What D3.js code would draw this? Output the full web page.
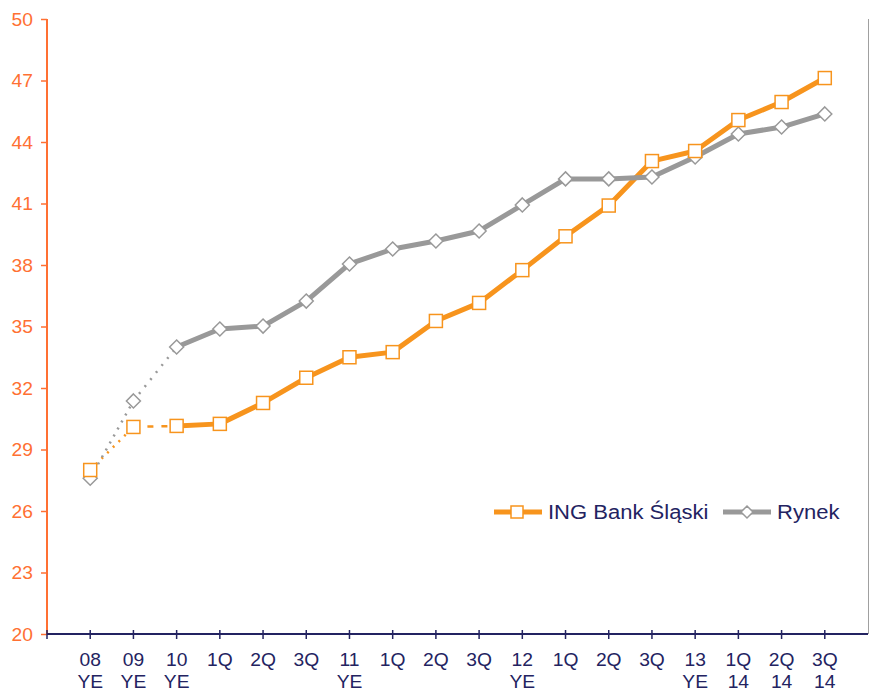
<!DOCTYPE html>
<html>
<head>
<meta charset="utf-8">
<script src="https://cdn.jsdelivr.net/npm/d3@7"></script>
<style>
  body { margin: 0; background: #fff; }
  svg text { font-family: "Liberation Sans", Arial, sans-serif; }
</style>
</head>
<body>
<div id="chart"></div>
<script>
// categories: two-line labels
const categories = ["08|YE", "09|YE", "10|YE", "1Q|", "2Q|", "3Q|", "11|YE", "1Q|", "2Q|", "3Q|",
    "12|YE", "1Q|", "2Q|", "3Q|", "13|YE", "1Q|14", "2Q|14", "3Q|14"];
const ingValues   = [28.0, 30.1, 30.15, 30.25, 31.27, 32.5, 33.5, 33.75, 35.27, 36.15,
    37.75, 39.4, 40.9, 43.07, 43.56, 45.07, 45.95, 47.12];
const rynekValues = [27.6, 31.37, 34.0, 34.88, 35.02, 36.24, 38.05, 38.78, 39.17, 39.66,
    40.93, 42.2, 42.2, 42.29, 43.27, 44.39, 44.73, 45.37];
const yTicks = [20, 23, 26, 29, 32, 35, 38, 41, 44, 47, 50];
const seriesNames = ["ING Bank Śląski", "Rynek"];

var width = 870,
    height = 691;
var pLeft = 47, pRight = 868, pTop = 19, pBottom = 634;
var SX = 1.1; // text in the original is slightly stretched horizontally

const ORANGE = "#F7941D", GREY = "#999999", AXIS_OR = "#FF7033", NAVY = "#232361";

var svg = d3.select("#chart").append("svg")
    .attr("width", width)
    .attr("height", height);

var idx = categories.map((d, i) => i);
var x = d3.scalePoint().domain(idx).range([pLeft, pRight]).padding(1);
var y = d3.scaleLinear().domain([20, 50]).range([pBottom, pTop]);

// right border of plot area
svg.append("line")
    .attr("x1", pRight + 0.5).attr("x2", pRight + 0.5)
    .attr("y1", pTop).attr("y2", pBottom)
    .attr("stroke", "#a0a0a0").attr("stroke-width", 1);

// y axis
var yAxis = svg.append("g")
    .attr("transform", `translate(${pLeft},0)`)
    .call(d3.axisLeft(y).tickValues(yTicks).tickSize(6).tickPadding(8));
yAxis.select(".domain").attr("stroke", AXIS_OR).attr("stroke-width", 2).attr("d", `M0,${pTop}V${pBottom}`);
yAxis.selectAll(".tick line").attr("stroke", AXIS_OR).attr("stroke-width", 1.5);
yAxis.selectAll(".tick text")
    .attr("fill", AXIS_OR).attr("font-size", 17.5)
    .attr("x", 0).attr("dy", "0.35em")
    .attr("transform", `translate(-14,0) scale(${SX},1)`);

// x axis
var xg = svg.append("g");
xg.append("line")
    .attr("x1", pLeft).attr("x2", pRight)
    .attr("y1", pBottom).attr("y2", pBottom)
    .attr("stroke", NAVY).attr("stroke-width", 2);
var tickPos = [pLeft].concat(idx.map(i => x(i)));
xg.selectAll("line.tk").data(tickPos).enter().append("line")
    .attr("class", "tk")
    .attr("x1", d => d).attr("x2", d => d)
    .attr("y1", pBottom - 4).attr("y2", pBottom + 5)
    .attr("stroke", NAVY).attr("stroke-width", 1.5);
var lbl = xg.selectAll("text.xl").data(idx).enter().append("text")
    .attr("class", "xl")
    .attr("text-anchor", "middle")
    .attr("fill", NAVY)
    .attr("font-size", 17.5)
    .attr("transform", d => `translate(${x(d)},0) scale(${SX},1)`);
lbl.append("tspan")
    .attr("x", 0).attr("y", 666)
    .text(d => categories[d].split("|")[0]);
lbl.append("tspan")
    .attr("x", 0).attr("y", 688)
    .text(d => categories[d].split("|")[1]);

// lines
var line = d3.line().x(d => x(d.i)).y(d => y(d.v));
function drawSeries(values, color, firstDash, secondDash) {
    var pts = values.map((v, i) => ({i: i, v: v}));
    svg.append("path").datum(pts.slice(0, 2))
        .attr("d", line).attr("fill", "none")
        .attr("stroke", color).attr("stroke-width", 2.5)
        .attr("stroke-dasharray", firstDash);
    svg.append("path").datum(pts.slice(1, 3))
        .attr("d", line).attr("fill", "none")
        .attr("stroke", color).attr("stroke-width", 2.5)
        .attr("stroke-dasharray", secondDash);
    svg.append("path").datum(pts.slice(2))
        .attr("d", line).attr("fill", "none")
        .attr("stroke", color).attr("stroke-width", 5)
        .attr("stroke-linejoin", "round");
    return pts;
}
var ingPts = drawSeries(ingValues, ORANGE, "2,6", "6,8");
var ryPts = drawSeries(rynekValues, GREY, "2,6", "2,7");

// markers
function diamond(cx, cy, r) {
    return `M${cx},${cy - r}L${cx + r},${cy}L${cx},${cy + r}L${cx - r},${cy}Z`;
}
svg.selectAll("path.dm").data(ryPts).enter().append("path")
    .attr("class", "dm")
    .attr("d", d => diamond(x(d.i), y(d.v), 7))
    .attr("fill", "#fff").attr("stroke", GREY).attr("stroke-width", 1.5);
svg.selectAll("rect.sq").data(ingPts).enter().append("rect")
    .attr("class", "sq")
    .attr("x", d => x(d.i) - 6.5).attr("y", d => y(d.v) - 6.5)
    .attr("width", 13).attr("height", 13)
    .attr("fill", "#fff").attr("stroke", ORANGE).attr("stroke-width", 1.5);

// legend
var lg = svg.append("g").attr("transform", "translate(494,512)");
lg.append("line").attr("x1", 0).attr("x2", 48).attr("y1", 0).attr("y2", 0)
    .attr("stroke", ORANGE).attr("stroke-width", 5);
lg.append("rect").attr("x", 17).attr("y", -6).attr("width", 12).attr("height", 12)
    .attr("fill", "#fff").attr("stroke", ORANGE).attr("stroke-width", 1.5);
lg.append("text").attr("transform", `translate(54,7) scale(1.13,1)`)
    .attr("font-size", 19.5).attr("fill", NAVY)
    .text(seriesNames[0]);
lg.append("line").attr("x1", 229).attr("x2", 277).attr("y1", 0).attr("y2", 0)
    .attr("stroke", GREY).attr("stroke-width", 5);
lg.append("path").attr("d", diamond(253, 0, 6))
    .attr("fill", "#fff").attr("stroke", GREY).attr("stroke-width", 1.5);
lg.append("text").attr("transform", `translate(283,7) scale(1.13,1)`)
    .attr("font-size", 19.5).attr("fill", NAVY)
    .text(seriesNames[1]);
</script>
</body>
</html>
